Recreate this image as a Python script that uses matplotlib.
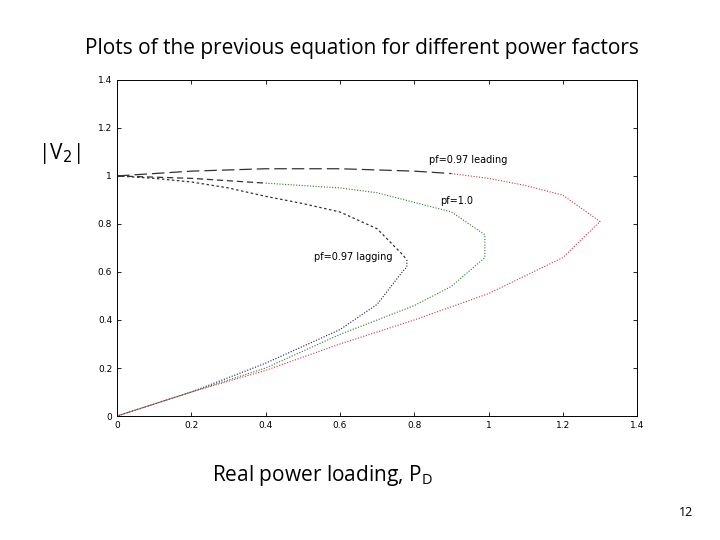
import matplotlib
matplotlib.use("Agg")
import matplotlib.pyplot as plt

lag_p = [0, 0.1, 0.2, 0.3, 0.4, 0.5, 0.6, 0.7, 0.77, 0.78, 0.78, 0.77, 0.7, 0.6, 0.4, 0.2, 0]
lag_v = [1.0, 0.99, 0.975, 0.95, 0.915, 0.885, 0.85, 0.78, 0.67, 0.65, 0.62, 0.605, 0.465, 0.36, 0.22, 0.1, 0]
lag_split = 9
one_p = [0, 0.2, 0.4, 0.6, 0.7, 0.8, 0.9, 0.99, 0.99, 0.9, 0.8, 0.6, 0.4, 0.2, 0]
one_v = [1.0, 0.99, 0.97, 0.95, 0.93, 0.89, 0.85, 0.755, 0.66, 0.54, 0.46, 0.34, 0.2, 0.1, 0]
one_split = 2
lead_p = [0, 0.2, 0.4, 0.6, 0.8, 0.9, 1.0, 1.1, 1.2, 1.3, 1.2, 1.0, 0.8, 0.6, 0.4, 0.2, 0]
lead_v = [1.0, 1.02, 1.03, 1.03, 1.02, 1.01, 0.99, 0.96, 0.92, 0.81, 0.66, 0.51, 0.4, 0.3, 0.19, 0.1, 0]
lead_split = 5
ticks = [0, 0.2, 0.4, 0.6, 0.8, 1, 1.2, 1.4]
tick_labels = ["0", "0.2", "0.4", "0.6", "0.8", "1", "1.2", "1.4"]

fig = plt.figure(figsize=(7.2, 5.4), dpi=100)
ax = fig.add_axes([0.1625, 0.2296, 0.7225, 0.6224])

for p, v, n, c, ls in [(lag_p, lag_v, lag_split, "#1a1a6e", (0, (2, 2))),
                       (one_p, one_v, one_split, "#2a7a2a", (0, (5, 3))),
                       (lead_p, lead_v, lead_split, "#cc3344", (0, (10, 4)))]:
    ax.plot(p[:n + 1], v[:n + 1], color="#333333", lw=0.9, linestyle=ls)
    ax.plot(p[n:], v[n:], color=c, lw=0.8, linestyle=(0, (1, 1.5)))

ax.text(0.84, 1.055, "pf=0.97 leading", fontsize=7, family="DejaVu Sans")
ax.text(0.87, 0.885, "pf=1.0", fontsize=7, family="DejaVu Sans")
ax.text(0.53, 0.65, "pf=0.97 lagging", fontsize=7, family="DejaVu Sans")

ax.set_xlim(0, 1.4)
ax.set_ylim(0, 1.4)
ax.set_xticks(ticks)
ax.set_xticklabels(tick_labels)
ax.set_yticks(ticks)
ax.set_yticklabels(tick_labels)
ax.tick_params(direction="in", labelsize=6.5, top=True, right=True, length=3, width=0.6)
for s in ax.spines.values():
    s.set_linewidth(0.7)

fig.text(0.502, 0.9, "Plots of the previous equation for different power factors",
         ha="center", fontsize=15, family="Open Sans")
fig.text(0.053, 0.705, r"|V$_2$|", fontsize=15, family="Open Sans")
fig.text(0.295, 0.11, r"Real power loading, P$_\mathregular{D}$", fontsize=15, family="Open Sans")
fig.text(0.943, 0.045, "12", fontsize=9, family="Open Sans")

fig.savefig("out.png", dpi=100)
